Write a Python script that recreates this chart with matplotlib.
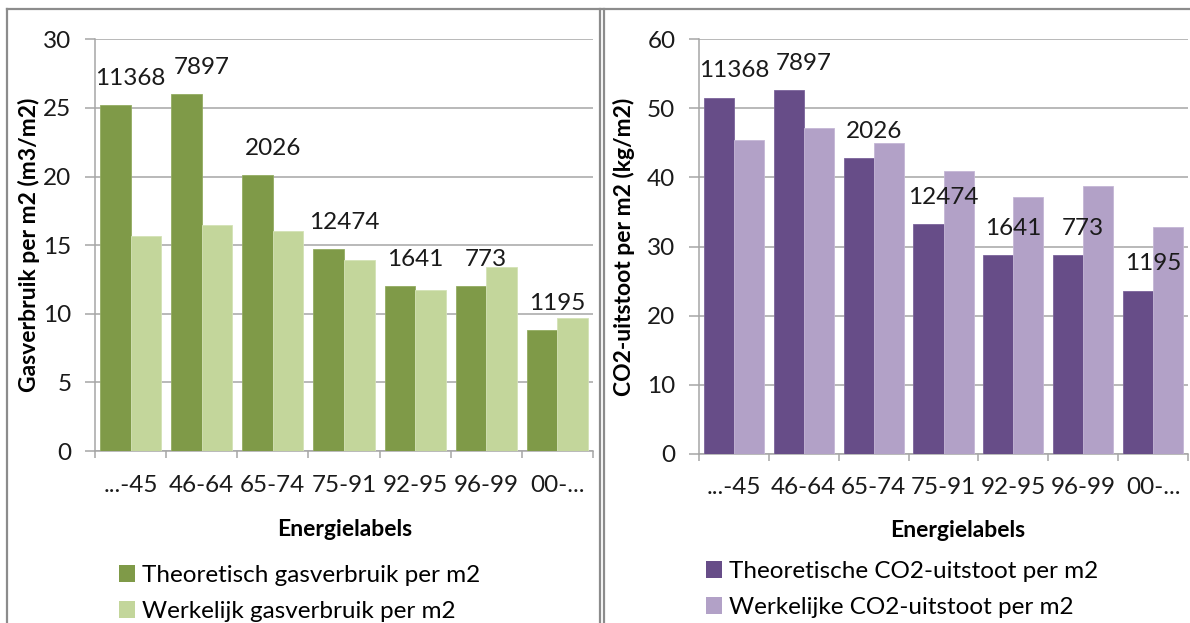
import matplotlib.pyplot as plt
from matplotlib.lines import Line2D
from matplotlib.patches import Patch

plt.rcParams['font.family'] = ['Lato', 'DejaVu Sans']

# bouwperiodes en aantallen woningen per periode
labels = ['...-45', '46-64', '65-74', '75-91', '92-95', '96-99', '00-...']
aantallen = [11368, 7897, 2026, 12474, 1641, 773, 1195]

# gasverbruik per m2 (m3/m2)
gas_theoretisch = [25.2, 26.0, 20.1, 14.7, 12.0, 12.0, 8.8]
gas_werkelijk = [15.7, 16.5, 16.0, 13.9, 11.7, 13.4, 9.7]

# CO2-uitstoot per m2 (kg/m2)
co2_theoretisch = [51.5, 52.6, 42.8, 33.2, 28.7, 28.7, 23.6]
co2_werkelijk = [45.4, 47.1, 45.0, 41.0, 37.1, 38.8, 32.8]

W, H = 1190, 623
GRID = '#a6a6a6'
FRAME = '#8c8c8c'
FS = 17.5


def px(x0, y0, x1, y1):
    # pixel box (top-left origin) -> figure fraction rect
    return [x0 / W, 1 - y1 / H, (x1 - x0) / W, (y1 - y0) / H]


def bar_panel(ax, theo, werk, kleuren, ymax, ystep, ylabel, legend_labels,
              ylab_x, xlab_xy, legend_xy):
    pos = list(range(len(labels)))
    bw = 0.43
    ax.bar([p - bw / 2 for p in pos], theo, bw, color=kleuren[0],
           edgecolor=kleuren[2], linewidth=0.6, zorder=3)
    ax.bar([p + bw / 2 for p in pos], werk, bw, color=kleuren[1],
           edgecolor=kleuren[3], linewidth=0.6, zorder=3)

    for p, v, n in zip(pos, theo, aantallen):
        ax.annotate(str(n), xy=(p, v), xytext=(0, 19.5),
                    textcoords='offset points', ha='center', va='center',
                    fontsize=FS, color='#1a1a1a', zorder=4)

    ax.set_xlim(-0.5, len(labels) - 0.5)
    ax.set_ylim(0, ymax)
    ax.set_yticks(range(0, ymax + 1, ystep))
    ax.set_xticks(pos)
    ax.set_xticklabels(labels)
    ax.set_xticks([p - 0.5 for p in pos] + [len(labels) - 0.5], minor=True)
    ax.tick_params(axis='x', which='major', length=0, pad=17,
                   labelsize=FS, labelcolor='#1a1a1a')
    ax.tick_params(axis='x', which='minor', length=5, width=1.1, color=GRID)
    ax.tick_params(axis='y', length=7, width=1.1, color=GRID, pad=10,
                   labelsize=FS, labelcolor='#1a1a1a')

    ax.grid(axis='y', color=GRID, linewidth=1.1, zorder=0)
    ax.set_axisbelow(True)
    for s in ['top', 'right']:
        ax.spines[s].set_visible(False)
    for s in ['left', 'bottom']:
        ax.spines[s].set_color(GRID)
        ax.spines[s].set_linewidth(1.1)

    ax.set_ylabel(ylabel, fontsize=16.5, fontweight='bold')
    ax.yaxis.set_label_coords(ylab_x, 0.5)
    ax.set_xlabel('Energielabels', fontsize=16.5, fontweight='bold')
    ax.xaxis.set_label_coords(*xlab_xy)

    handles = [Patch(facecolor=kleuren[0]), Patch(facecolor=kleuren[1])]
    fig.legend(handles, legend_labels, loc='upper left',
               bbox_to_anchor=(legend_xy[0] / W, 1 - legend_xy[1] / H),
               frameon=False, fontsize=FS, handlelength=0.65,
               handleheight=0.7, handletextpad=0.3, labelspacing=0.62,
               borderpad=0, borderaxespad=0)


fig = plt.figure(figsize=(W / 100, H / 100), dpi=100)

ax1 = fig.add_axes(px(95, 39.3, 593, 451))
bar_panel(ax1, gas_theoretisch, gas_werkelijk,
          ['#7f9a48', '#c3d69b', '#93ac62', '#d4e2b6'], 30, 5,
          'Gasverbruik per m2 (m3/m2)',
          ['Theoretisch gasverbruik per m2', 'Werkelijk gasverbruik per m2'],
          -0.11, (0.502, -0.165), (119, 565))

ax2 = fig.add_axes(px(699, 39.3, 1188, 453.7))
bar_panel(ax2, co2_theoretisch, co2_werkelijk,
          ['#674d88', '#b2a1c7', '#7c649b', '#c4b6d5'], 60, 10,
          'CO2-uitstoot per m2 (kg/m2)',
          ['Theoretische CO2-uitstoot per m2', 'Werkelijke CO2-uitstoot per m2'],
          -0.131, (0.528, -0.16), (706, 561))

# kaders rond beide grafieken
def hline(y, x0, x1):
    fig.add_artist(Line2D([x0 / W, x1 / W], [1 - y / H, 1 - y / H],
                          color=FRAME, linewidth=1.6))


def vline(x, y0, y1):
    fig.add_artist(Line2D([x / W, x / W], [1 - y0 / H, 1 - y1 / H],
                          color=FRAME, linewidth=1.6))


hline(8.5, 6.5, 601)
vline(7, 8.5, H)
vline(600, 8.5, H)
vline(604, 8.5, H)
hline(8.5, 603, W)

fig.savefig('out.png', dpi=100)
